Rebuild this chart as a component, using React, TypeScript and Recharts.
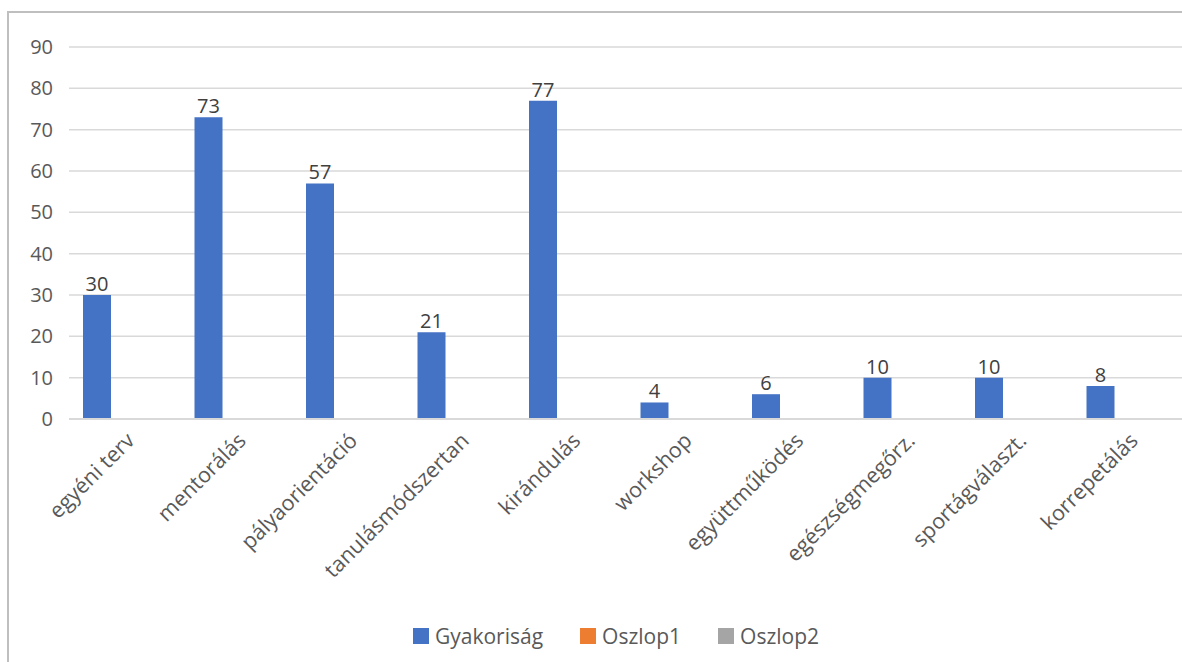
import React from "react";
import { BarChart, Bar, XAxis, YAxis, CartesianGrid, Legend, LabelList } from "recharts";

const categories = ["egyéni terv", "mentorálás", "pályaorientáció", "tanulásmódszertan", "kirándulás", "workshop", "együttműködés", "egészségmegőrz.", "sportágválaszt.", "korrepetálás"];
const gyakorisag = [30, 73, 57, 21, 77, 4, 6, 10, 10, 8];
const oszlop1: (number | null)[] = [null, null, null, null, null, null, null, null, null, null];
const oszlop2: (number | null)[] = [null, null, null, null, null, null, null, null, null, null];
const seriesNames = ["Gyakoriság", "Oszlop1", "Oszlop2"];
const seriesColors = ["#4472C4", "#ED7D31", "#A5A5A5"];
const yTicks = [0, 10, 20, 30, 40, 50, 60, 70, 80, 90];

const data = categories.map((c, i) => ({
  name: c,
  [seriesNames[0]]: gyakorisag[i],
  [seriesNames[1]]: oszlop1[i],
  [seriesNames[2]]: oszlop2[i],
}));

const FONT = "'Open Sans', sans-serif";
const TXT = "#595959";

const XTick = (props: any) => {
  const { x, y, payload } = props;
  return (
    <g transform={`translate(${x + 11},${y + 15})`}>
      <text textAnchor="end" transform="rotate(-45)" fill={TXT} fontSize={21.5} fontFamily={FONT}>
        {payload.value}
      </text>
    </g>
  );
};

const LegendContent = () => (
  <div style={{ display: "flex", alignItems: "center", fontFamily: FONT, fontSize: 21, color: TXT, height: 24 }}>
    {seriesNames.map((n, i) => (
      <div key={n} style={{ display: "flex", alignItems: "center", marginRight: 37 }}>
        <span style={{ display: "inline-block", width: 16, height: 16, background: seriesColors[i], marginRight: 6 }} />
        <span>{n}</span>
      </div>
    ))}
  </div>
);

export default function App() {
  return (
    <div style={{ position: "absolute", left: 0, top: 0, width: 1182, height: 662, overflow: "hidden", background: "#fff" }}>
      <div style={{ position: "absolute", left: 7, top: 11, right: -10, bottom: -10, borderLeft: "2px solid #bfbfbf", borderTop: "2px solid #bfbfbf" }} />
      <div style={{ position: "absolute", left: 0, top: 0 }}>
        <BarChart
          width={1190}
          height={662}
          data={data}
          margin={{ top: 47, right: 6, left: 0, bottom: 109 }}
          barCategoryGap={14}
          barGap={0}
        >
          <CartesianGrid vertical={false} stroke="#d9d9d9" strokeWidth={1.5} />
          <XAxis
            dataKey="name"
            interval={0}
            height={110}
            tick={<XTick />}
            tickLine={false}
            axisLine={{ stroke: "#d9d9d9", strokeWidth: 2 }}
          />
          <YAxis
            width={69}
            domain={[0, 90]}
            ticks={yTicks}
            interval={0}
            tickLine={false}
            axisLine={false}
            tickMargin={10}
            tick={{ fill: TXT, fontSize: 20, fontFamily: FONT }}
          />
          <Legend
            verticalAlign="bottom"
            content={<LegendContent />}
            wrapperStyle={{ position: "absolute", left: 413, top: 624, width: "auto" }}
          />
          {seriesNames.map((n, i) => (
            <Bar key={n} dataKey={n} fill={seriesColors[i]} isAnimationActive={false}>
              {i === 0 ? (
                <LabelList dataKey={n} position="top" offset={4} fill="#404040" fontSize={20} fontFamily={FONT} />
              ) : null}
            </Bar>
          ))}
        </BarChart>
      </div>
    </div>
  );
}
